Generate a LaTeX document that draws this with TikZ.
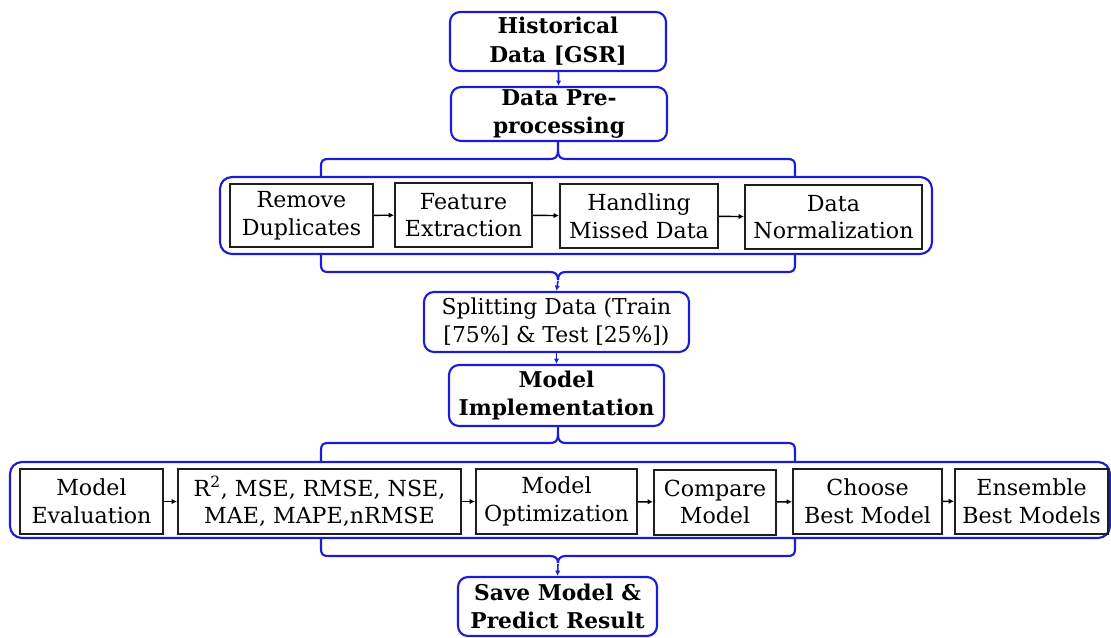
\documentclass[tikz,border=0pt]{standalone}
\usepackage{fontspec}
\setmainfont{DejaVu Serif}
\usetikzlibrary{arrows.meta}
\definecolor{flowblue}{RGB}{28,28,212}
\definecolor{boxline}{RGB}{30,30,30}
\tikzset{
  stagebox/.style={draw=flowblue, line width=1.6pt, rounded corners=7.5pt, align=center,
    inner sep=0pt, font=\fontsize{16.3}{21.5}\selectfont\bfseries},
  plainstage/.style={stagebox, font=\fontsize{16.4}{21}\selectfont},
  taskbox/.style={draw=boxline, line width=1.5pt, align=center, inner sep=0pt,
    font=\fontsize{16.6}{20.8}\selectfont},
  groupbox/.style={draw=flowblue, line width=1.6pt, rounded corners=9pt},
  bracket/.style={draw=flowblue, line width=1.6pt},
  flowarrow/.style={draw=flowblue, line width=1.2pt, -{Latex[length=4pt,width=4pt]}},
  steparrow/.style={draw=black, line width=1.1pt, -{Latex[length=4pt,width=4pt]}},
}
\begin{document}
\begin{tikzpicture}[x=0.75pt, y=-0.75pt]
\useasboundingbox (0,0) rectangle (1111,637);

% main column
\node[stagebox, minimum width=162pt, minimum height=44.25pt] (hist) at (558,41.5) {Historical\\Data [GSR]};
\node[stagebox, minimum width=162pt, minimum height=40.5pt] (prep) at (559,114) {Data Pre-\\processing};
\node[plainstage, minimum width=198.75pt, minimum height=45pt] (split) at (556.5,322) {Splitting Data (Train\\{}[75\%] \& Test [25\%])};
\node[stagebox, minimum width=161.25pt, minimum height=45.75pt] (impl) at (556.5,395.5) {Model\\Implementation};
\node[stagebox, minimum width=149.25pt, minimum height=44.25pt] (save) at (557.5,606.5) {Save Model \&\\Predict Result};

% pre-processing group
\node[groupbox, minimum width=534pt, minimum height=57.75pt] (pregroup) at (576,215.5) {};
\node[taskbox, minimum width=107.25pt, minimum height=47.25pt] (rd) at (301.5,215.5) {Remove\\Duplicates};
\node[taskbox, minimum width=102.75pt, minimum height=48pt] (fe) at (463.5,215) {Feature\\Extraction};
\node[taskbox, minimum width=118.5pt, minimum height=48pt] (hm) at (639,216) {Handling\\Missed Data};
\node[taskbox, minimum width=132.75pt, minimum height=48pt] (dn) at (833.5,217) {Data\\Normalization};

% modelling group
\node[groupbox, minimum width=825pt, minimum height=57pt] (modgroup) at (560,500) {};
\node[taskbox, minimum width=107.25pt, minimum height=48.75pt] (me) at (91.5,501.5) {Model\\Evaluation};
\node[taskbox, minimum width=212.25pt, minimum height=48.75pt] (r2) at (319.5,501.5) {R\textsuperscript{2}, MSE, RMSE, NSE,\\MAE, MAPE,nRMSE};
\node[taskbox, minimum width=120.75pt, minimum height=48.75pt] (mo) at (556.5,501.5) {Model\\Optimization};
\node[taskbox, minimum width=91.5pt, minimum height=48.75pt] (cm) at (715,502) {Compare\\Model};
\node[taskbox, minimum width=111.75pt, minimum height=48.75pt] (cb) at (867.5,501.5) {Choose\\Best Model};
\node[taskbox, minimum width=114.75pt, minimum height=48.75pt] (eb) at (1031.5,501) {Ensemble\\Best Models};

% arrows inside the groups
\draw[steparrow] (rd) -- (fe);
\draw[steparrow] (fe) -- (hm);
\draw[steparrow] (hm) -- (dn);
\draw[steparrow] (me) -- (r2);
\draw[steparrow] (r2) -- (mo);
\draw[steparrow] (mo) -- (cm);
\draw[steparrow] (cm) -- (cb);
\draw[steparrow] (cb) -- (eb);

% main flow
\draw[flowarrow] (hist) -- (prep);
\draw[flowarrow] (split) -- (impl);

% brackets: opening brace (cusp up), closing brace (cusp down)
\coordinate (c1) at (558,141);
\draw[bracket] (321,177) -- (321,166) .. controls (321,161) and (323,159) .. (328,159) -- (550,159)
  .. controls (555,159) and (558,157) .. (558,151) -- (c1);
\draw[bracket] (795,177) -- (795,166) .. controls (795,161) and (793,159) .. (788,159) -- (566,159)
  .. controls (561,159) and (558,157) .. (558,151);

\coordinate (c2) at (558,281);
\draw[bracket] (321,254) -- (321,265) .. controls (321,270) and (323,272) .. (328,272) -- (550,272)
  .. controls (555,272) and (558,274) .. (558,280);
\draw[bracket] (795,254) -- (795,265) .. controls (795,270) and (793,272) .. (788,272) -- (566,272)
  .. controls (561,272) and (558,274) .. (558,280);
\draw[flowarrow] (c2) -- (split.north);

\coordinate (c3) at (558,426);
\draw[bracket] (321,462) -- (321,450) .. controls (321,445) and (323,443) .. (328,443) -- (550,443)
  .. controls (555,443) and (558,441) .. (558,435) -- (c3);
\draw[bracket] (795,462) -- (795,450) .. controls (795,445) and (793,443) .. (788,443) -- (566,443)
  .. controls (561,443) and (558,441) .. (558,435);

\coordinate (c4) at (558,564);
\draw[bracket] (321,538) -- (321,549) .. controls (321,554) and (323,556) .. (328,556) -- (550,556)
  .. controls (555,556) and (558,558) .. (558,563);
\draw[bracket] (795,538) -- (795,549) .. controls (795,554) and (793,556) .. (788,556) -- (566,556)
  .. controls (561,556) and (558,558) .. (558,563);
\draw[flowarrow] (c4) -- (save.north);
\end{tikzpicture}
\end{document}
